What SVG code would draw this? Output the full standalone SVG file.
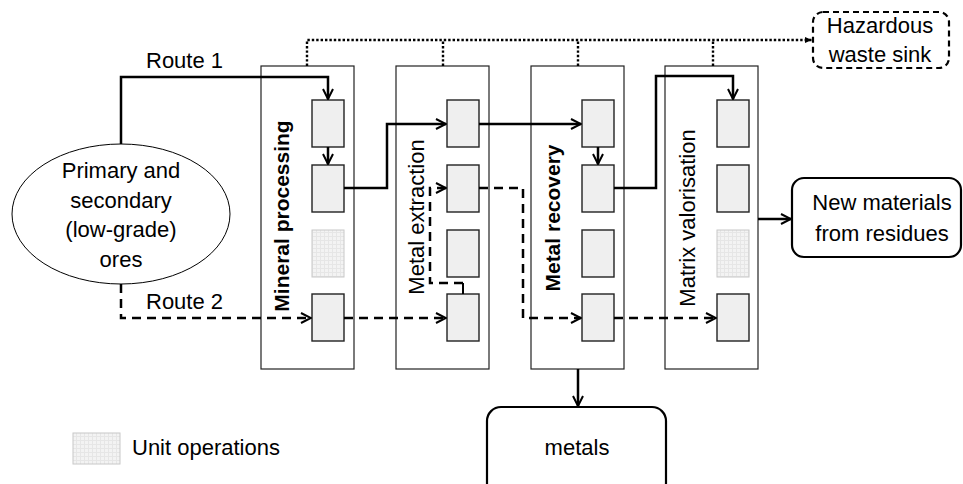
<svg xmlns="http://www.w3.org/2000/svg" width="963" height="484" viewBox="0 0 963 484">
<defs>
<style>
text{font-family:"Liberation Sans",Arial,sans-serif;font-size:22px;fill:#000}
.col{fill:#fff;stroke:#222;stroke-width:1.2}
.unit{fill:#efefef;stroke:#222;stroke-width:1.4}
.unitp{fill:url(#grid);stroke:#c8c8c8;stroke-width:1}
.solid{fill:none;stroke:#000;stroke-width:2.5}
.dash{fill:none;stroke:#000;stroke-width:2.5;stroke-dasharray:9,6}
.dot{fill:none;stroke:#000;stroke-width:2.4;stroke-dasharray:2.4,2}
.term{fill:#fff;stroke:#000;stroke-width:2.2}
</style>
<pattern id="grid" width="4" height="4" patternUnits="userSpaceOnUse">
<rect width="4" height="4" fill="#f3f3f3"/>
<path d="M0,0.5H4M0.5,0V4" stroke="#e6e6e6" stroke-width="1"/>
</pattern>
<marker id="arr" viewBox="0 0 12 12" refX="11" refY="6" markerWidth="12" markerHeight="12" markerUnits="userSpaceOnUse" orient="auto">
<path d="M1,1 L11,6 L1,11" fill="none" stroke="#000" stroke-width="2"/>
</marker>
<marker id="arrs" viewBox="0 0 10 10" refX="9" refY="5" markerWidth="8" markerHeight="8" markerUnits="userSpaceOnUse" orient="auto">
<path d="M0,1 L9,5 L0,9 Z" fill="#000"/>
</marker>
</defs>
<rect width="963" height="484" fill="#fff"/>

<g id="col-mineral">
<rect class="col" x="261" y="66" width="93" height="303"/>
<text transform="translate(289,216) rotate(-90)" text-anchor="middle" font-weight="bold" style="font-size:21px">Mineral processing</text>
<rect class="unit" x="312" y="100" width="32" height="47"/>
<rect class="unit" x="312" y="165" width="32" height="47"/>
<rect class="unitp" x="312" y="230" width="32" height="47"/>
<rect class="unit" x="312" y="294" width="32" height="47"/>
</g>
<g id="col-extraction">
<rect class="col" x="396" y="66" width="93" height="303"/>
<text transform="translate(424,217) rotate(-90)" text-anchor="middle">Metal extraction</text>
<rect class="unit" x="447" y="100" width="32" height="47"/>
<rect class="unit" x="447" y="165" width="32" height="47"/>
<rect class="unit" x="447" y="230" width="32" height="47"/>
<rect class="unit" x="447" y="294" width="32" height="47"/>
</g>
<g id="col-recovery">
<rect class="col" x="531" y="66" width="93" height="303"/>
<text transform="translate(560,218) rotate(-90)" text-anchor="middle" font-weight="bold" style="font-size:21px">Metal recovery</text>
<rect class="unit" x="582" y="100" width="32" height="47"/>
<rect class="unit" x="582" y="165" width="32" height="47"/>
<rect class="unit" x="582" y="230" width="32" height="47"/>
<rect class="unit" x="582" y="294" width="32" height="47"/>
</g>
<g id="col-valorisation">
<rect class="col" x="665" y="66" width="93" height="303"/>
<text transform="translate(695,218) rotate(-90)" text-anchor="middle">Matrix valorisation</text>
<rect class="unit" x="717" y="100" width="32" height="47"/>
<rect class="unit" x="717" y="165" width="32" height="47"/>
<rect class="unitp" x="717" y="230" width="32" height="47"/>
<rect class="unit" x="717" y="294" width="32" height="47"/>
</g>

<g id="ores">
<ellipse cx="121" cy="214" rx="109" ry="70" fill="#fff" stroke="#000" stroke-width="1"/>
<text x="121" y="178" text-anchor="middle">Primary and</text>
<text x="121" y="208" text-anchor="middle">secondary</text>
<text x="121" y="237" text-anchor="middle">(low-grade)</text>
<text x="121" y="267" text-anchor="middle">ores</text>
</g>
<g id="hazardous">
<rect x="813" y="12" width="136" height="56" rx="10" fill="#fff" stroke="#000" stroke-width="2.2" stroke-dasharray="6,4"/>
<text x="880" y="33" text-anchor="middle">Hazardous</text>
<text x="880" y="62" text-anchor="middle">waste sink</text>
</g>
<g id="newmaterials">
<rect class="term" x="792" y="178" width="169" height="79" rx="12"/>
<text x="882" y="210" text-anchor="middle">New materials</text>
<text x="882" y="241" text-anchor="middle">from residues</text>
</g>
<g id="metals">
<rect class="term" x="487" y="407" width="179" height="90" rx="14"/>
<text x="577" y="455" text-anchor="middle">metals</text>
</g>
<g id="legend">
<rect class="unitp" x="73" y="433" width="47" height="31"/>
<text x="132" y="455">Unit operations</text>
</g>

<g id="connectors">
<text x="146" y="68">Route 1</text>
<text x="146" y="309">Route 2</text>
<path class="solid" d="M121,144 V77 H328 V99" marker-end="url(#arr)"/>
<path class="solid" d="M328,147 V164" marker-end="url(#arr)"/>
<path class="solid" d="M344,188 H387 V124 H446" marker-end="url(#arr)"/>
<path class="solid" d="M479,124 H581" marker-end="url(#arr)"/>
<path class="solid" d="M598,147 V164" marker-end="url(#arr)"/>
<path class="solid" d="M614,188 H656 V76 H733 V99" marker-end="url(#arr)"/>
<path class="solid" d="M758,219 H791" marker-end="url(#arr)"/>
<path class="solid" d="M578,369 V406" marker-end="url(#arr)"/>
<path class="dash" d="M121,284 V318 H311" marker-end="url(#arr)"/>
<path class="dash" d="M344,318 H446" marker-end="url(#arr)"/>
<path fill="none" stroke="#000" stroke-width="2" d="M463,294 V283"/>
<path class="dash" d="M463,283 H430 V188 H446" marker-end="url(#arr)"/>
<path class="dash" d="M479,188 H523 V318 H581" marker-end="url(#arr)"/>
<path class="dash" d="M614,318 H716" marker-end="url(#arr)"/>
<path class="dot" d="M307,66 V40 H812" marker-end="url(#arrs)"/>
<path class="dot" d="M443,66 V40 M578,66 V40 M713,66 V40"/>
</g>
</svg>
